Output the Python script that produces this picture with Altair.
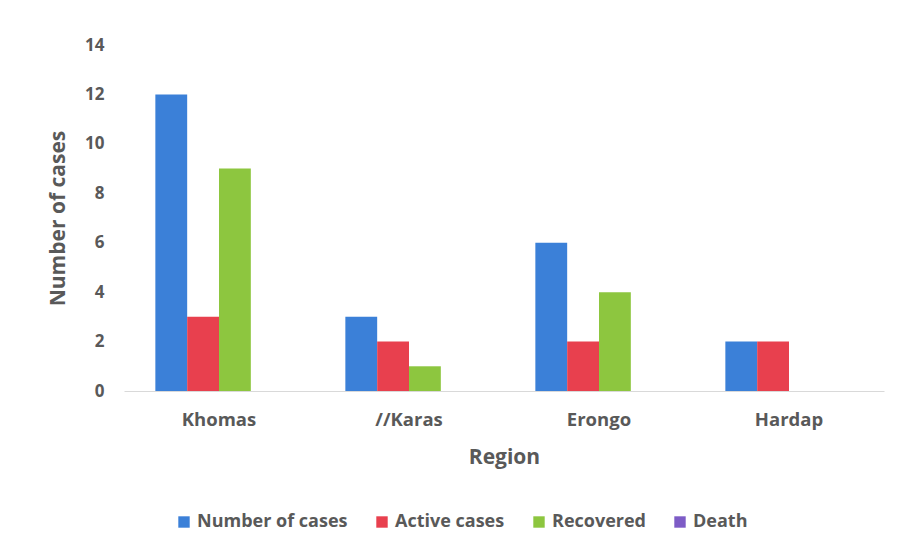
import altair as alt
import pandas as pd

regions = ["Khomas", "//Karas", "Erongo", "Hardap"]
series = ["Number of cases", "Active cases", "Recovered", "Death"]
number_of_cases = [12, 3, 6, 2]
active_cases = [3, 2, 2, 2]
recovered = [9, 1, 4, 0]
death = [0, 0, 0, 0]
colors = ["#3b80d8", "#e8404e", "#8dc63f", "#7d5cc6"]

rows = []
for vals, s in zip([number_of_cases, active_cases, recovered, death], series):
    for r, v in zip(regions, vals):
        rows.append({"Region": r, "Series": s, "Value": v})
df = pd.DataFrame(rows)

FONT = "Open Sans"
GRAY = "#595959"

chart = alt.Chart(df).mark_bar().encode(
    x=alt.X("Region:N", sort=regions,
            scale=alt.Scale(paddingInner=0.33, paddingOuter=0.165),
            axis=alt.Axis(title="Region", labelAngle=0, ticks=False, domainColor="#d9d9d9",
                          labelFontSize=18.5, labelFont=FONT, labelFontWeight="bold", labelColor=GRAY,
                          labelPadding=19, titleFontSize=21, titleFont=FONT, titleFontWeight="bold",
                          titleColor=GRAY, titlePadding=18)),
    xOffset=alt.XOffset("Series:N", sort=series, scale=alt.Scale(paddingInner=0, paddingOuter=0)),
    y=alt.Y("Value:Q", scale=alt.Scale(domain=[0, 14]),
            axis=alt.Axis(title="Number of cases", values=[0, 2, 4, 6, 8, 10, 12, 14], grid=False,
                          domain=False, ticks=False, labelFontSize=17, labelFont=FONT,
                          labelFontWeight="bold", labelColor=GRAY, labelPadding=20,
                          titleFontSize=21, titleFont=FONT, titleFontWeight="bold",
                          titleColor=GRAY, titlePadding=16)),
    color=alt.Color("Series:N", sort=series, scale=alt.Scale(domain=series, range=colors),
                    legend=alt.Legend(title=None, orient="none", direction="horizontal",
                                      legendX=51, legendY=468, symbolType="square",
                                      symbolSize=130, labelFontSize=18, labelFont=FONT,
                                      labelFontWeight="bold", labelColor=GRAY,
                                      columnPadding=25, symbolStrokeWidth=0)),
).properties(
    width=760, height=346,
    padding={"left": 39, "top": 28, "right": 8, "bottom": 8},
).configure_view(stroke=None)

chart.save("out.html", embed_options={"renderer": "svg", "actions": False})
